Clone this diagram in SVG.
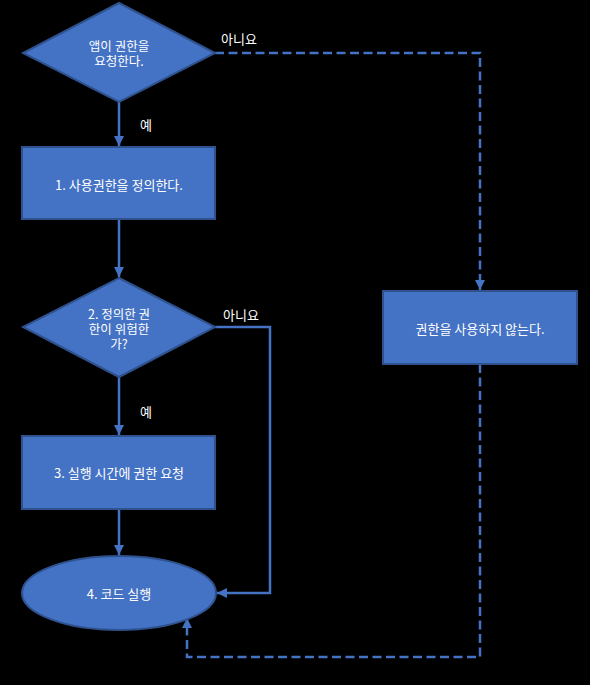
<svg xmlns="http://www.w3.org/2000/svg" width="590" height="685" viewBox="0 0 590 685">
<style>
.shape{fill:#4472C4;stroke:#2F528F;stroke-width:2}
.t{fill:#ffffff;font-family:"Noto Sans CJK KR","Liberation Sans",sans-serif;font-size:13px;text-anchor:middle;dominant-baseline:central}
.s{font-size:12.5px}
.c{fill:none;stroke:#4472C4;stroke-width:2.5}
.d{stroke-dasharray:9 4.5}
</style>
<defs>
<marker id="ah" viewBox="0 0 10 10" refX="10" refY="5" markerWidth="4" markerHeight="4" orient="auto" markerUnits="strokeWidth">
<path d="M0,0 L10,5 L0,10 z" fill="#4472C4"/>
</marker>
</defs>
<rect width="590" height="685" fill="#000000"/>
<g id="connectors">
<path class="c" d="M119,102 V146" marker-end="url(#ah)"/>
<path class="c" d="M119,219 V277" marker-end="url(#ah)"/>
<path class="c" d="M119,377 V435" marker-end="url(#ah)"/>
<path class="c" d="M119,509 V555" marker-end="url(#ah)"/>
<path class="c" d="M215,327 H270 V593 H217" marker-end="url(#ah)"/>
<path class="c d" d="M215,53 H480 V290" marker-end="url(#ah)"/>
<path class="c d" d="M480,364 V657 H187 V618" marker-end="url(#ah)"/>
<text class="t" x="146" y="124">예</text>
<text class="t" x="146" y="411">예</text>
<text class="t" x="239" y="38">아니요</text>
<text class="t" x="241" y="314">아니요</text>
</g>
<g id="n_request">
<polygon class="shape" points="119,3 215,53 119,102 23,53"/>
<text class="t s" x="119" y="45"><tspan x="119">앱이 권한을</tspan><tspan x="119" dy="15">요청한다.</tspan></text>
</g>
<g id="n_define">
<rect class="shape" x="22" y="147" width="193" height="72"/>
<text class="t" x="119" y="184">1. 사용권한을 정의한다.</text>
</g>
<g id="n_dangerous">
<polygon class="shape" points="119,278 215,327 119,377 23,327"/>
<text class="t s" x="119" y="312.5"><tspan x="119">2. 정의한 권</tspan><tspan x="119" dy="15">한이 위험한</tspan><tspan x="119" dy="15">가?</tspan></text>
</g>
<g id="n_runtime">
<rect class="shape" x="22" y="436" width="193" height="73"/>
<text class="t" x="119" y="472">3. 실행 시간에 권한 요청</text>
</g>
<g id="n_run">
<ellipse class="shape" cx="119" cy="593" rx="97" ry="37"/>
<text class="t" x="119" y="593">4. 코드 실행</text>
</g>
<g id="n_nouse">
<rect class="shape" x="383" y="291" width="194" height="73"/>
<text class="t" x="480" y="328">권한을 사용하지 않는다.</text>
</g>
</svg>
